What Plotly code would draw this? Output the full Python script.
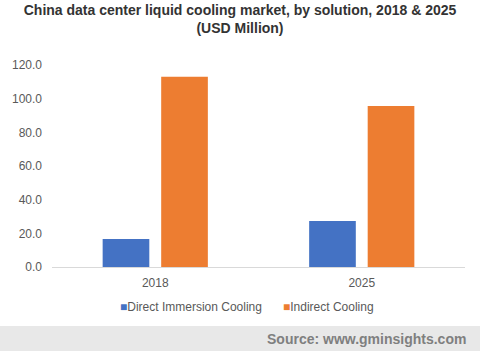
import plotly.graph_objects as go

years = ["2018", "2025"]
direct_immersion = [16.6, 27.3]
indirect = [113.0, 95.6]
series_names = ["Direct Immersion Cooling", "Indirect Cooling"]
colors = ["#4472C4", "#ED7D31"]
y_ticks = [0, 20, 40, 60, 80, 100, 120]

fig = go.Figure()
for name, vals, col in zip(series_names, [direct_immersion, indirect], colors):
    fig.add_trace(go.Bar(x=years, y=vals, name=name, marker_color=col,
                         marker_line_width=0, showlegend=False))

fig.update_layout(
    width=480, height=351,
    margin=dict(l=49, r=15, t=65, b=84),
    paper_bgcolor="white", plot_bgcolor="white",
    font=dict(family="Liberation Sans, Arial, sans-serif", color="#595959", size=12),
    title=dict(text="<b>China data center liquid cooling market, by solution, 2018 & 2025<br>(USD Million)</b>",
               x=0.5, xanchor="center", y=0.957, yanchor="top",
               font=dict(size=14, color="#333333")),
    barmode="group", bargap=0.433, bargroupgap=0.203,
    xaxis=dict(showline=True, linecolor="#D9D9D9", linewidth=1, ticks="",
               showgrid=False, ticklabelstandoff=5,
               tickfont=dict(size=12, color="#595959")),
    yaxis=dict(range=[0, 120], tickvals=y_ticks, tickformat=".1f", showgrid=False,
               zeroline=False, showline=False, ticks="", ticklabelstandoff=9,
               tickfont=dict(size=12, color="#595959")),
    showlegend=False,
)

# legend built as text entries (compact square + label like the reference)
legend_x_px = [66, 229]  # offsets from plot-area left edge
for name, col, xs in zip(series_names, colors, legend_x_px):
    fig.add_annotation(text=f"<span style='color:{col}'>■</span>{name}",
                       xref="paper", yref="paper", x=0, xshift=xs, xanchor="left",
                       y=0, yshift=-40, yanchor="middle", showarrow=False,
                       font=dict(size=12, color="#595959"))

fig.add_shape(type="rect", xref="paper", yref="paper", xsizemode="pixel", ysizemode="pixel",
              xanchor=0, yanchor=0, x0=-60, x1=440, y0=-59, y1=-90,
              fillcolor="#E8E8E8", line_width=0, layer="below")
fig.add_annotation(text="<b>Source: www.gminsights.com</b>", xref="paper", yref="paper",
                   x=1, xanchor="right", xshift=3, y=0, yanchor="middle", yshift=-72,
                   showarrow=False, font=dict(size=14, color="#7F7F7F"))

fig.write_html("out.html")
